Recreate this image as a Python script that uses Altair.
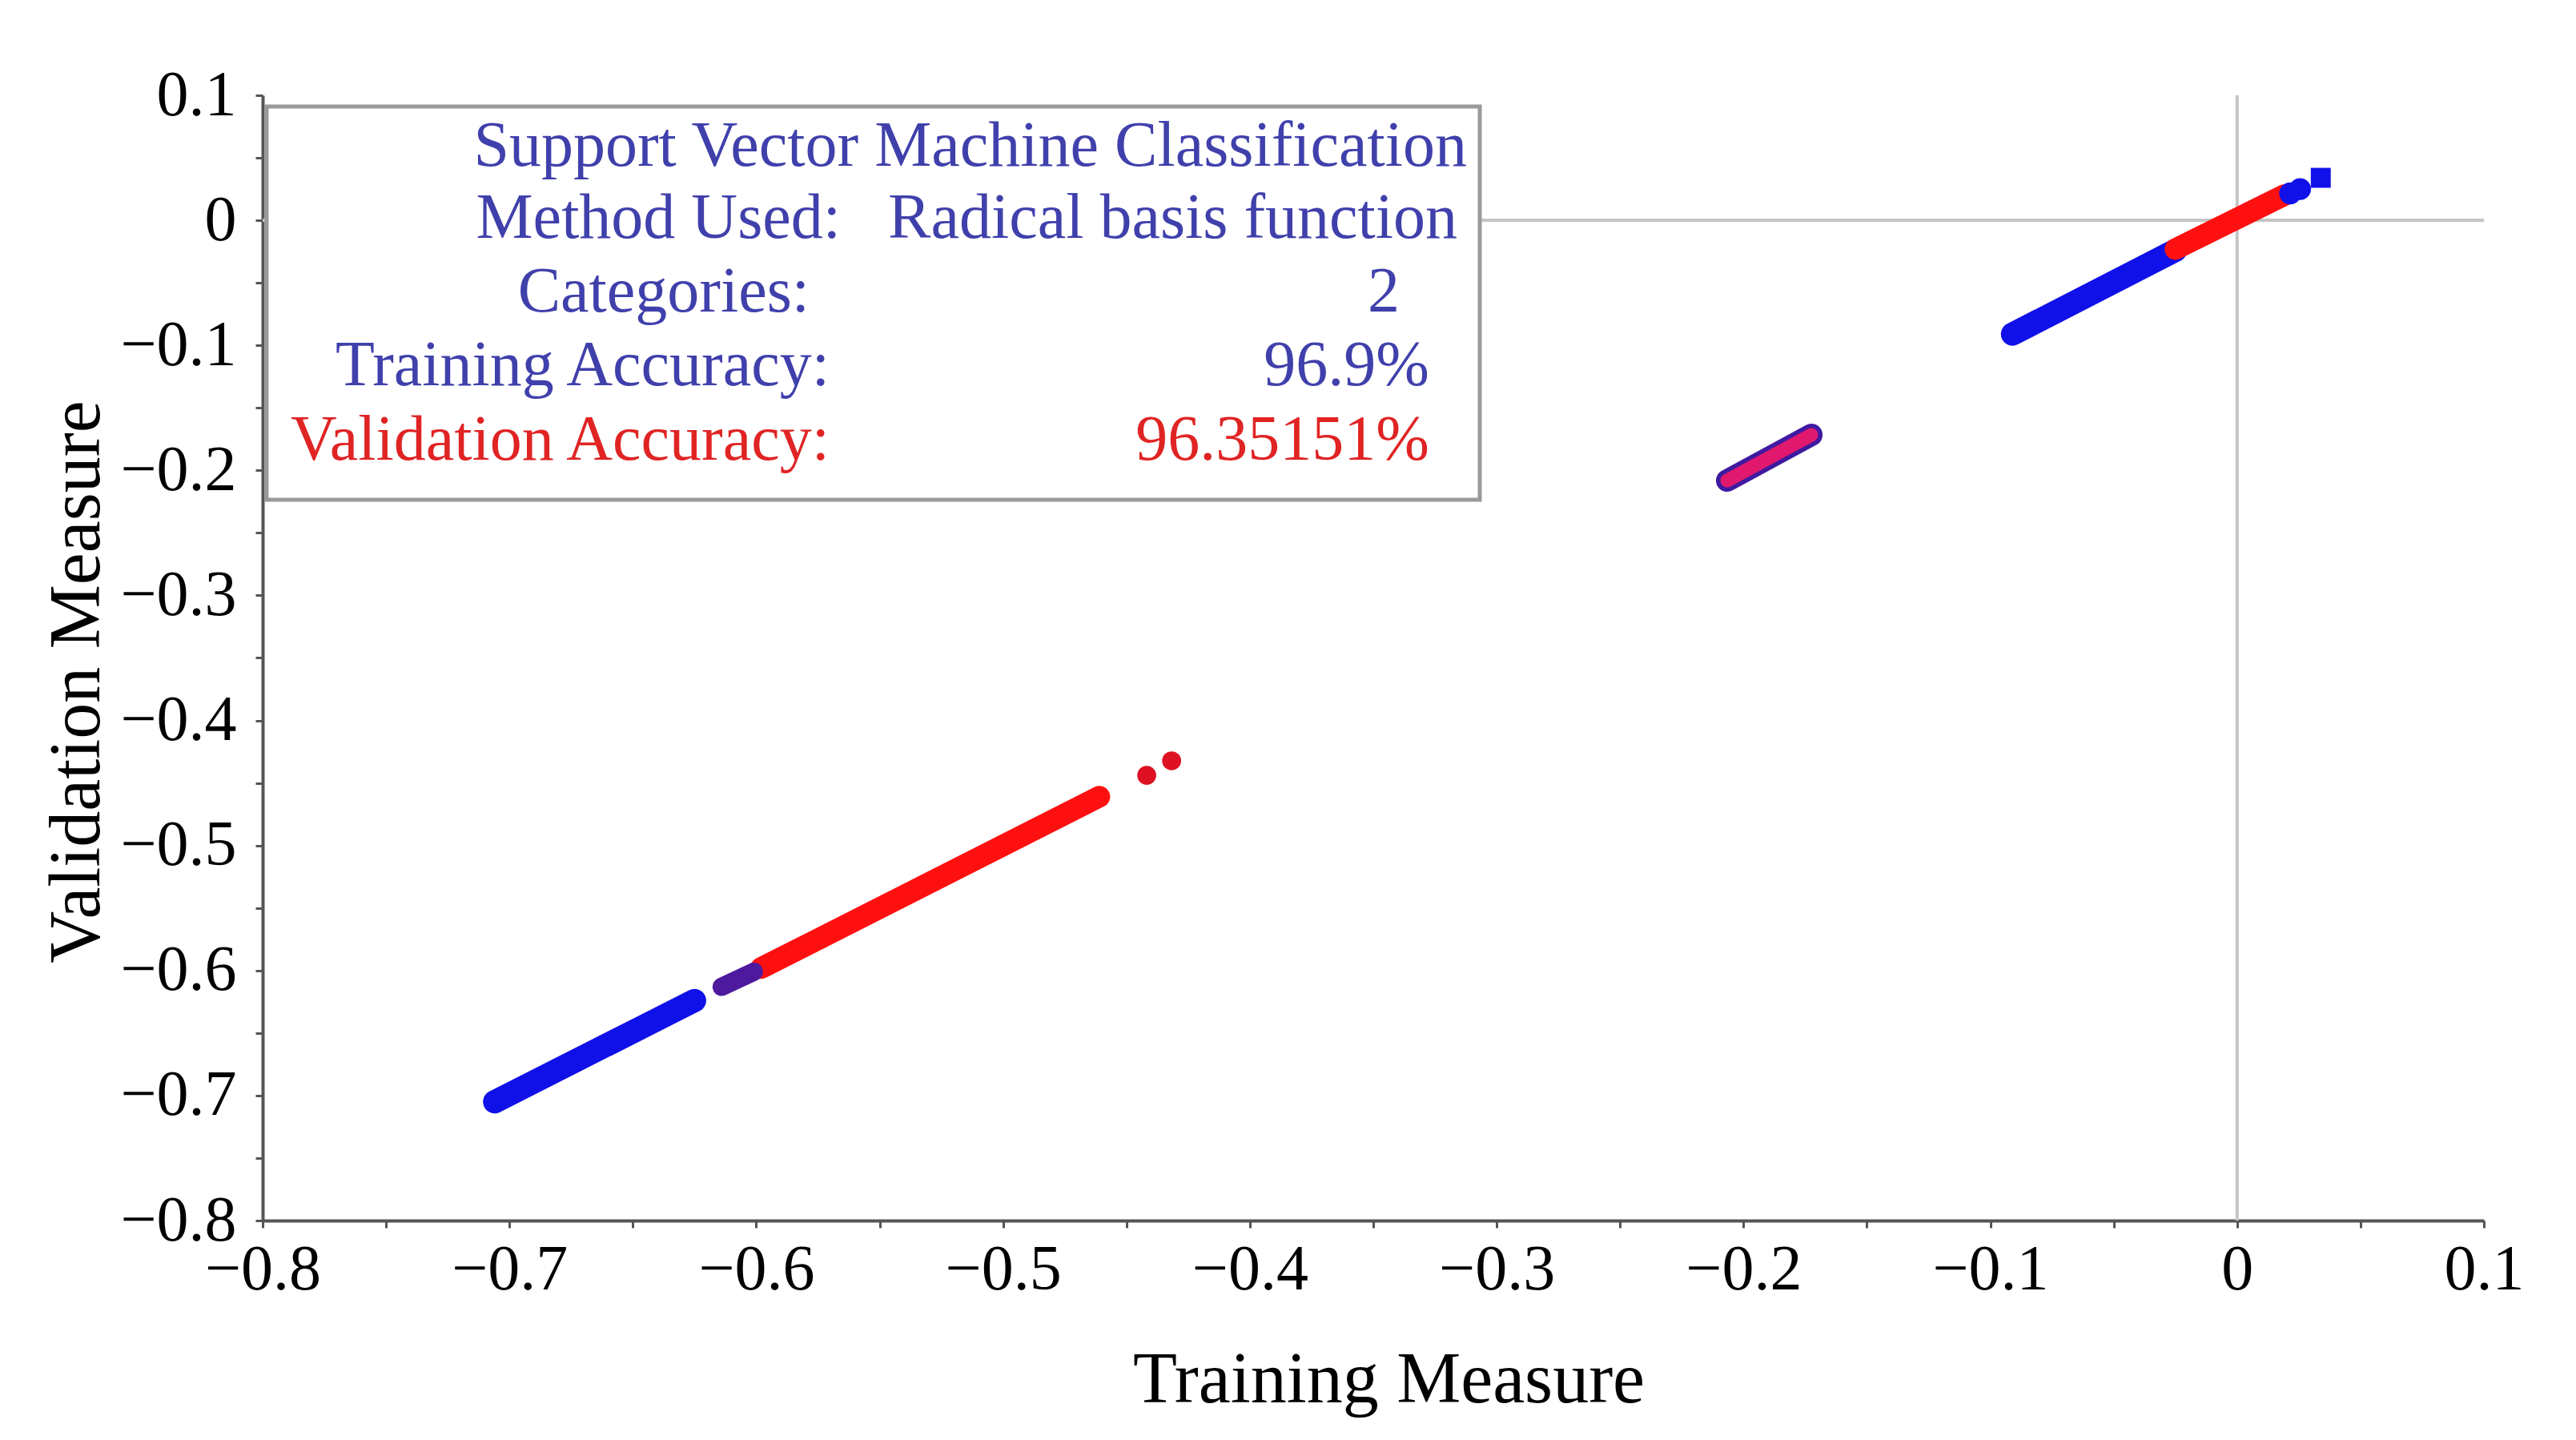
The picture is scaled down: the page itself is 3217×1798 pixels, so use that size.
import altair as alt
import pandas as pd

# ---------------- axis ticks ----------------
major_ticks = [-0.8, -0.7, -0.6, -0.5, -0.4, -0.3, -0.2, -0.1, 0.0, 0.1]
minor_ticks = [-0.75, -0.65, -0.55, -0.45, -0.35, -0.25, -0.15, -0.05, 0.05]
all_ticks = sorted(major_ticks + minor_ticks)

# ---------------- data (dense runs of overlapping points: start / end) ----------------
blue_x1 = [-0.706, -0.091]
blue_y1 = [-0.705, -0.091]
blue_x2 = [-0.625, -0.025]
blue_y2 = [-0.624, -0.024]

red_x1 = [-0.598, -0.025]
red_y1 = [-0.598, -0.023]
red_x2 = [-0.461, 0.019]
red_y2 = [-0.461, 0.020]

purple_x1 = [-0.614]
purple_y1 = [-0.613]
purple_x2 = [-0.601]
purple_y2 = [-0.601]

mixed_x1 = [-0.2066]
mixed_y1 = [-0.2081]
mixed_x2 = [-0.1725]
mixed_y2 = [-0.1716]

# isolated points
red_pt_x = [-0.4418, -0.4317]
red_pt_y = [-0.4439, -0.4323]
blue_pt_x = [0.0215, 0.0255]
blue_pt_y = [0.0215, 0.0250]
blue_sq_x = [0.0339]
blue_sq_y = [0.0340]

# ---------------- legend panel text ----------------
legend_texts = ["Support Vector Machine Classification", "Method Used:", "Radical basis function",
                "Categories:", "2", "Training Accuracy:", "96.9%", "Validation Accuracy:", "96.35151%"]
legend_groups = ["blue", "blue", "blue", "blue", "blue", "blue", "blue", "red", "red"]
# layout (pixels inside plot area, right-aligned anchor, vertical centre)
legend_px = [1504, 722, 1492, 683, 1420, 708, 1457, 708, 1457]
legend_py = [64, 154, 154, 246, 246, 338, 338, 431, 431]

BLUE = "#1010e8"
RED = "#ff1010"
TXT_BLUE = "#4040ac"
TXT_RED = "#e02424"
FONT = "Liberation Serif"

xscale = alt.Scale(domain=[-0.8, 0.1], nice=False, zero=False)
yscale = alt.Scale(domain=[-0.8, 0.1], nice=False, zero=False)

x_label_expr = ("abs(datum.value) < 1e-9 ? '0' : "
                "(abs(round(datum.value*10) - datum.value*10) > 0.01 ? '' : "
                "(datum.value < 0 ? '\u2212' + format(-datum.value, '.1f') + '\u2002\u2009' : format(datum.value, '.1f')))")
y_label_expr = ("abs(datum.value) < 1e-9 ? '0' : "
                "(abs(round(datum.value*10) - datum.value*10) > 0.01 ? '' : "
                "(datum.value < 0 ? '\u2212' + format(-datum.value, '.1f') : format(datum.value, '.1f')))")

xaxis = alt.Axis(values=all_ticks, labelExpr=x_label_expr, title="Training Measure",
                 grid=False, domainColor="#555555", domainWidth=4, tickColor="#555555",
                 tickWidth=3, tickSize=9, labelFont=FONT, labelFontSize=80, labelColor="black",
                 labelBaseline="alphabetic", labelAlign="center", labelPadding=76,
                 labelFlush=False, labelOverlap=False,
                 titleFont=FONT, titleFontSize=90, titleFontWeight="normal", titleColor="black",
                 titleX=1406, titleY=226, titleAlign="center", titleBaseline="alphabetic")
yaxis = alt.Axis(values=all_ticks, labelExpr=y_label_expr, title="Validation Measure",
                 grid=False, domainColor="#555555", domainWidth=4, tickColor="#555555",
                 tickWidth=3, tickSize=9, labelFont=FONT, labelFontSize=80, labelColor="black",
                 labelBaseline="middle", labelAlign="right", labelPadding=24,
                 labelFlush=False, labelOverlap=False,
                 titleFont=FONT, titleFontSize=90, titleFontWeight="normal", titleColor="black",
                 titleX=-205, titleY=732, titleAngle=-90, titleAlign="center",
                 titleBaseline="alphabetic")


def X(f):
    return alt.X(f, type="quantitative", scale=xscale, axis=xaxis)


def Y(f):
    return alt.Y(f, type="quantitative", scale=yscale, axis=yaxis)


def runs(x1, y1, x2, y2):
    return pd.DataFrame({"x1": x1, "y1": y1, "x2": x2, "y2": y2})


one = pd.DataFrame({"k": [0]})

# zero reference lines
vline = alt.Chart(one).mark_rule(color="#c4c4c4", strokeWidth=4).encode(x=alt.datum(0))
hline = alt.Chart(one).mark_rule(color="#c4c4c4", strokeWidth=4).encode(y=alt.datum(0))

# legend panel
box = alt.Chart(one).mark_rect(fill="white", stroke="#9a9a9a", strokeWidth=5).encode(
    x=alt.value(5), x2=alt.value(1520), y=alt.value(14), y2=alt.value(505))

text_layers = []
for t, g, px, py in zip(legend_texts, legend_groups, legend_px, legend_py):
    text_layers.append(
        alt.Chart(pd.DataFrame({"t": [t]})).mark_text(
            font=FONT, fontSize=80, align="right", baseline="middle",
            color=TXT_BLUE if g == "blue" else TXT_RED
        ).encode(text="t:N", x=alt.value(px), y=alt.value(py))
    )


def run_layer(df, color, width):
    return alt.Chart(df).mark_rule(color=color, strokeWidth=width, strokeCap="round").encode(
        x=X("x1"), y=Y("y1"), x2="x2", y2="y2")


blue_runs = run_layer(runs(blue_x1, blue_y1, blue_x2, blue_y2), BLUE, 29)
red_runs = run_layer(runs(red_x1, red_y1, red_x2, red_y2), RED, 27)
purple_run = run_layer(runs(purple_x1, purple_y1, purple_x2, purple_y2), "#4d1a9e", 23)
mixed_outer = run_layer(runs(mixed_x1, mixed_y1, mixed_x2, mixed_y2), "#3f1aa0", 28)
mixed_inner = run_layer(runs(mixed_x1, mixed_y1, mixed_x2, mixed_y2), "#e0186e", 17)

red_pts = alt.Chart(pd.DataFrame({"x": red_pt_x, "y": red_pt_y})).mark_point(
    filled=True, shape="circle", size=560, color="#dd1122", opacity=1).encode(x=X("x"), y=Y("y"))
blue_pts = alt.Chart(pd.DataFrame({"x": blue_pt_x, "y": blue_pt_y})).mark_point(
    filled=True, shape="circle", size=750, color=BLUE, opacity=1).encode(x=X("x"), y=Y("y"))
blue_sq = alt.Chart(pd.DataFrame({"x": blue_sq_x, "y": blue_sq_y})).mark_point(
    filled=True, shape="square", size=620, color=BLUE, opacity=1).encode(x=X("x"), y=Y("y"))

chart = alt.layer(
    vline, hline, box, *text_layers,
    blue_runs, red_runs, purple_run, mixed_outer, mixed_inner,
    red_pts, blue_pts, blue_sq
).properties(
    width=2774, height=1405,
    autosize=alt.AutoSizeParams(type="none"),
    padding={"left": 320, "top": 111, "right": 100, "bottom": 266},
    background="white",
).configure_view(stroke=None)

chart.save("out.html", embed_options={"renderer": "svg", "actions": False})
